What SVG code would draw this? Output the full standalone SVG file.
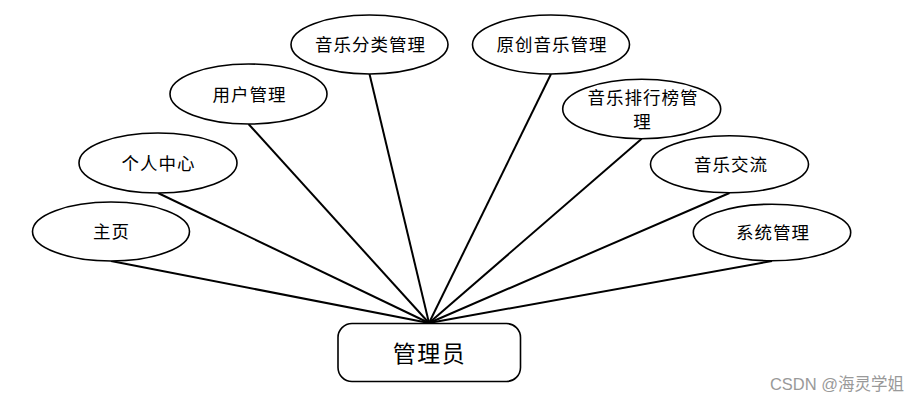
<svg xmlns="http://www.w3.org/2000/svg" width="919" height="401" viewBox="0 0 919 401">
<style>
.e{fill:#fff;stroke:#000;stroke-width:1.6}
.t{font-family:"Noto Sans CJK SC","Noto Sans",sans-serif;font-size:17.5px;fill:#000;text-anchor:middle;letter-spacing:1px}
.c{stroke:#000;stroke-width:2;fill:none}
</style>
<rect width="919" height="401" fill="#fff"/>
<g id="connectors">
<line class="c" x1="111" y1="261" x2="429" y2="323"/>
<line class="c" x1="158" y1="193" x2="429" y2="323"/>
<line class="c" x1="248.5" y1="124" x2="429" y2="323"/>
<line class="c" x1="369.5" y1="74" x2="429" y2="323"/>
<line class="c" x1="551" y1="74" x2="429" y2="323"/>
<line class="c" x1="641.7" y1="138.7" x2="429" y2="323"/>
<line class="c" x1="729.5" y1="193" x2="429" y2="323"/>
<line class="c" x1="772" y1="261" x2="429" y2="323"/>
</g>
<g id="n-zhuye"><ellipse class="e" cx="111" cy="231.5" rx="78.5" ry="29.5"/><text class="t" x="111.5" y="238">主页</text></g>
<g id="n-geren"><ellipse class="e" cx="158" cy="163" rx="79" ry="30"/><text class="t" x="158.5" y="170">个人中心</text></g>
<g id="n-yonghu"><ellipse class="e" cx="248.5" cy="94" rx="78.5" ry="30"/><text class="t" x="249.5" y="101">用户管理</text></g>
<g id="n-fenlei"><ellipse class="e" cx="369.5" cy="44.5" rx="78.5" ry="29.5"/><text class="t" x="370.5" y="51">音乐分类管理</text></g>
<g id="n-yuanchuang"><ellipse class="e" cx="551" cy="44.5" rx="78.5" ry="29.5"/><text class="t" x="552" y="51">原创音乐管理</text></g>
<g id="n-paihang"><ellipse class="e" cx="641.7" cy="109" rx="79" ry="29.7"/><text class="t" x="643" y="104">音乐排行榜管</text><text class="t" x="642.5" y="128">理</text></g>
<g id="n-jiaoliu"><ellipse class="e" cx="729.5" cy="164.3" rx="79" ry="28.5"/><text class="t" x="731" y="171">音乐交流</text></g>
<g id="n-xitong"><ellipse class="e" cx="772" cy="232.5" rx="78.7" ry="28.3"/><text class="t" x="773" y="239">系统管理</text></g>
<g id="n-admin"><rect x="338" y="323.5" width="182.5" height="58" rx="14" ry="14" fill="#fff" stroke="#000" stroke-width="1.6"/><text x="429.5" y="361.5" font-family="&quot;Noto Sans CJK SC&quot;,sans-serif" font-size="23" text-anchor="middle" letter-spacing="1.5">管理员</text></g>
<text x="904" y="389.5" font-family="&quot;Liberation Sans&quot;,&quot;Noto Sans CJK SC&quot;,sans-serif" font-size="16.5" fill="#999" text-anchor="end">CSDN @海灵学姐</text>
</svg>
